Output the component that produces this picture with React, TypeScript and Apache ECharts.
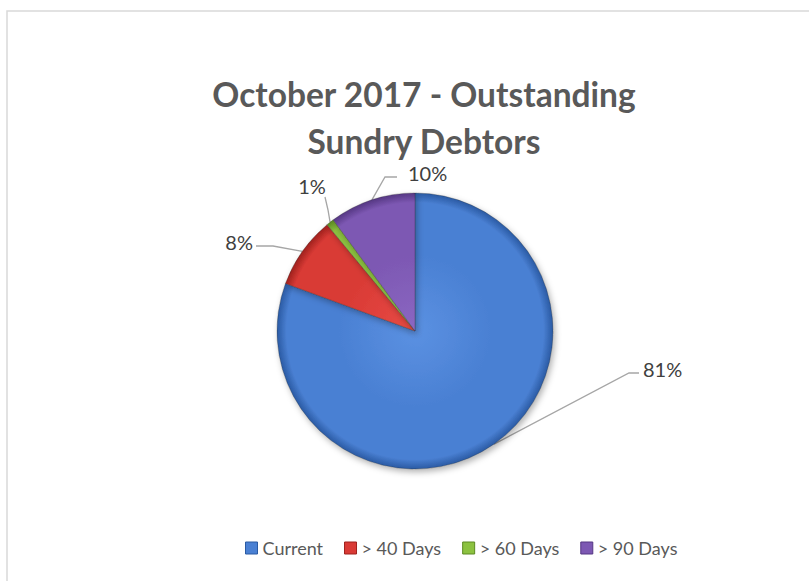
import React, { useEffect, useRef } from "react";
import * as echarts from "echarts";

const categories = ["Current", "> 40 Days", "> 60 Days", "> 90 Days"];
const shares = [80.6, 8.4, 0.9, 10.1];
const titleLines = ["October 2017 - Outstanding", "Sundry Debtors"];

const BASE = ["#4a80d3", "#d93a35", "#8cc240", "#7d58b3"];
const LIGHT = ["#5b91e2", "#e84b45", "#9ad24c", "#8b67c2"];
const DARK = ["#2a5aa3", "#9e211d", "#5c8a22", "#553783"];

const FONT = "Lato, 'Noto Sans', sans-serif";
const CX = 415;
const CY = 331;
const R = 138;

const LABEL_POS = [
  { x: 643, y: 369, align: "left", pts: [[629, 373], [639, 373]] },
  { x: 253, y: 242, align: "right", pts: [[273, 246], [256, 246]] },
  { x: 312, y: 186, align: "center", pts: [[328, 210], [325, 197]] },
  { x: 408, y: 173, align: "left", pts: [[385, 177], [397, 177]] },
];

export default function App() {
  const ref = useRef<HTMLDivElement>(null);
  useEffect(() => {
    if (!ref.current) return;
    const chart = echarts.init(ref.current, null, { renderer: "svg" });
    const data = categories.map((name, i) => ({
      name,
      value: shares[i],
      itemStyle: {
        color: {
          type: "radial",
          x: CX,
          y: CY,
          r: R,
          global: true,
          colorStops: [
            { offset: 0, color: LIGHT[i] },
            { offset: 0.55, color: BASE[i] },
            { offset: 0.93, color: BASE[i] },
            { offset: 1, color: DARK[i] },
          ],
        },
      },
    }));
    chart.setOption({
      animation: false,
      backgroundColor: "#ffffff",
      title: {
        text: titleLines.join("\n"),
        left: 419,
        top: 65,
        textAlign: "center",
        textStyle: {
          fontFamily: FONT,
          fontWeight: "bold",
          fontSize: 33.5,
          lineHeight: 47,
          color: "#595959",
        },
      },
      legend: {
        left: 240,
        top: 534,
        itemWidth: 12,
        itemHeight: 12,
        itemGap: 21,
        icon: "rect",
        textStyle: { fontFamily: FONT, fontSize: 18, color: "#595959" },
        data: categories.map((name, i) => ({
          name,
          itemStyle: { color: BASE[i], borderColor: DARK[i], borderWidth: 1 },
        })),
      },
      graphic: [
        {
          type: "rect",
          shape: { x: 7, y: 11, width: 900, height: 700 },
          style: { fill: "none", stroke: "#d9d9d9", lineWidth: 1.5 },
          silent: true,
          z: -1,
        },
      ],
      series: [
        {
          type: "pie",
          center: [CX, CY],
          radius: R,
          startAngle: 90,
          clockwise: true,
          data,
          itemStyle: {
            borderColor: "rgba(40,40,40,0.35)",
            borderWidth: 0.8,
            shadowBlur: 6,
            shadowOffsetX: 2,
            shadowOffsetY: 3,
            shadowColor: "rgba(0,0,0,0.3)",
          },
          label: {
            show: true,
            position: "outside",
            fontFamily: FONT,
            fontSize: 20,
            color: "#404040",
            formatter: (p: any) => Math.round(p.percent) + "%",
          },
          labelLine: {
            show: true,
            length: 20,
            length2: 10,
            lineStyle: { color: "#a6a6a6", width: 1.3 },
          },
          labelLayout: (params: any) => {
            const c = LABEL_POS[params.dataIndex];
            const p0 = params.labelLinePoints ? params.labelLinePoints[0] : c.pts[0];
            return {
              x: c.x,
              y: c.y,
              align: c.align,
              verticalAlign: "middle",
              labelLinePoints: [p0, c.pts[0], c.pts[1]],
            };
          },
          emphasis: { disabled: true },
        },
      ],
    });
    return () => chart.dispose();
  }, []);
  return (
    <div
      ref={ref}
      style={{ position: "fixed", left: 0, top: 0, width: 809, height: 581 }}
    />
  );
}
